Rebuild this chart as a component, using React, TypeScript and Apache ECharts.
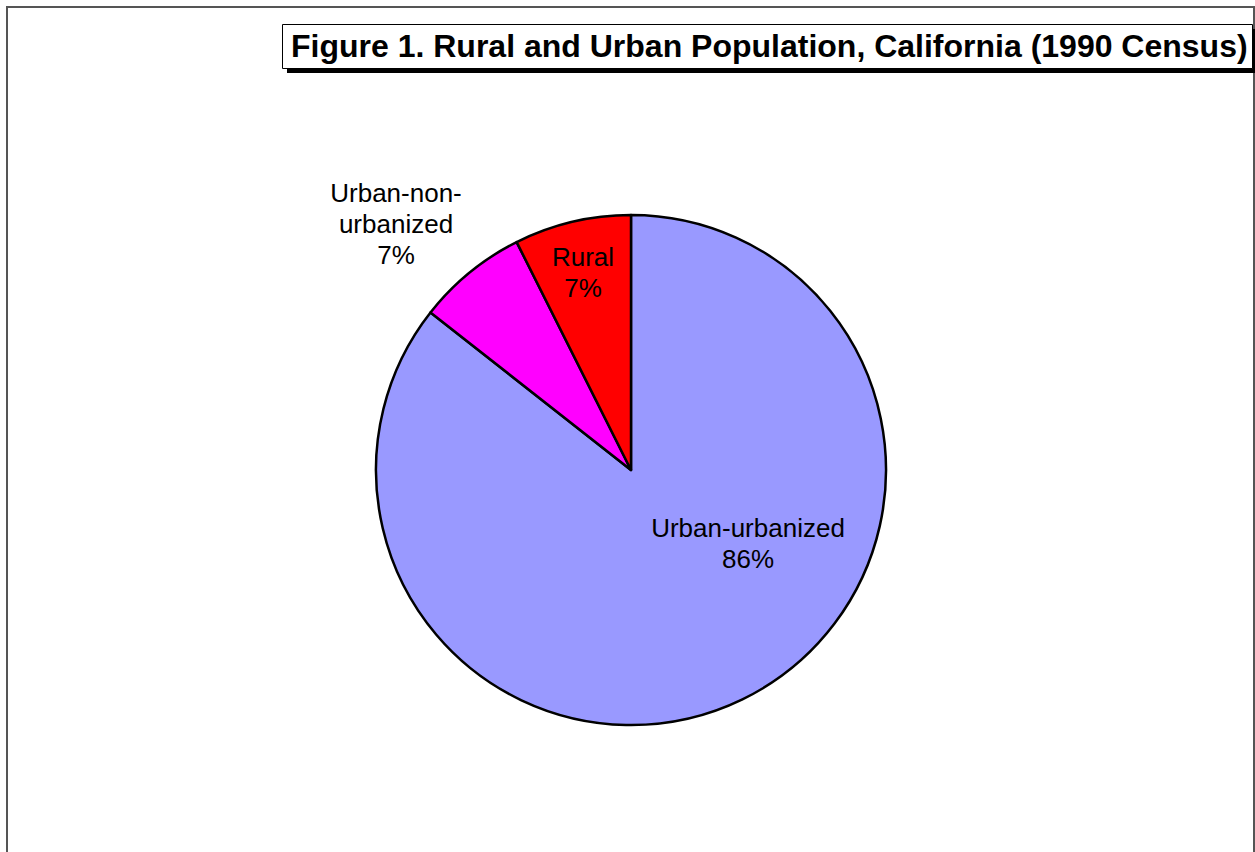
import React, { useEffect, useRef } from "react";
import * as echarts from "echarts";

const titleText = "Figure 1. Rural and Urban Population, California (1990 Census)";
const categories = ["Urban-urbanized", "Urban-non-urbanized", "Rural"];
const displayNames = ["Urban-urbanized", "Urban-non-\nurbanized", "Rural"];
const values = [85.6, 7.0, 7.4];
const colors = ["#9999FF", "#FF00FF", "#FF0000"];
// label anchor positions (layout only)
const labelPos = [
  [748, 543],
  [396, 224],
  [583, 272],
];

const FONT = "'Liberation Sans', Arial, Helvetica, sans-serif";

export default function App() {
  const ref = useRef<HTMLDivElement>(null);
  useEffect(() => {
    if (!ref.current) return;
    const chart = echarts.init(ref.current, null, { renderer: "svg" });
    chart.setOption({
      animation: false,
      backgroundColor: "#ffffff",
      title: {
        text: titleText,
        left: 291,
        top: 30,
        padding: 0,
        z: 10,
        textStyle: {
          fontFamily: FONT,
          fontSize: 32,
          fontWeight: "bold",
          color: "#000",
          lineHeight: 32,
        },
      },
      graphic: [
        {
          type: "rect",
          z: 0,
          shape: { x: 7, y: 7, width: 1247, height: 1000 },
          style: { fill: "none", stroke: "#555555", lineWidth: 2 },
        },
        {
          type: "rect",
          z: 1,
          shape: { x: 287, y: 29, width: 970, height: 44 },
          style: { fill: "#000000" },
        },
        {
          type: "rect",
          z: 2,
          shape: { x: 282.5, y: 24.5, width: 970, height: 44 },
          style: { fill: "#ffffff", stroke: "#000000", lineWidth: 1 },
        },
      ],
      series: [
        {
          type: "pie",
          center: [631, 470],
          radius: [0, 255],
          startAngle: 90,
          clockwise: true,
          percentPrecision: 0,
          avoidLabelOverlap: false,
          itemStyle: { borderColor: "#000", borderWidth: 2.5 },
          emphasis: { disabled: true },
          label: {
            show: true,
            position: "inside",
            fontFamily: FONT,
            fontSize: 26,
            lineHeight: 31,
            color: "#000",
            align: "center",
            formatter: (p: any) => `${displayNames[p.dataIndex]}\n${p.percent}%`,
          },
          labelLine: { show: false },
          labelLayout: (p: any) => ({
            x: labelPos[p.dataIndex][0],
            y: labelPos[p.dataIndex][1],
            align: "center",
            verticalAlign: "middle",
          }),
          data: categories.map((c, i) => ({
            name: c,
            value: values[i],
            itemStyle: { color: colors[i] },
          })),
        },
      ],
    });
    return () => chart.dispose();
  }, []);
  return (
    <div
      ref={ref}
      style={{ position: "absolute", left: 0, top: 0, width: 1255, height: 852 }}
    />
  );
}
